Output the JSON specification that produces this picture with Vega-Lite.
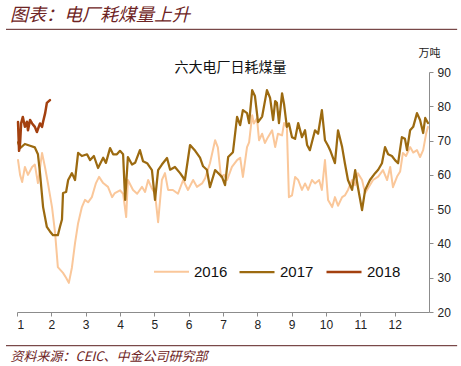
{
  "$schema": "https://vega.github.io/schema/vega-lite/v6.json",
  "autosize": {"type": "none"},
  "width": 412,
  "height": 240,
  "padding": {"left": 17, "top": 72, "right": 32, "bottom": 54},
  "background": "#ffffff",
  "title": {
    "text": "图表：电厂耗煤量上升",
    "anchor": "start",
    "frame": "group",
    "font": "Noto Sans CJK SC",
    "fontStyle": "italic",
    "fontWeight": "normal",
    "fontSize": 18,
    "color": "#6e2424",
    "dx": -7,
    "offset": 4
  },
  "config": {
    "view": {"stroke": null},
    "axis": {"labelFont": "Liberation Sans", "labelFontSize": 12, "labelColor": "#222222", "grid": false}
  },
  "resolve": {"axis": {"x": "independent", "y": "independent"}},
  "layer": [
    {
      "data": {"values": [{}]},
      "mark": {"type": "rule", "clip": false, "color": "#5a1f1f", "strokeWidth": 1},
      "encoding": {
        "x": {"datum": 0.68, "type": "quantitative", "scale": {"domain": [1, 13], "nice": false, "zero": false},
          "axis": {"orient": "top", "title": "六大电厂日耗煤量", "titleFont": "Noto Sans CJK SC", "titleFontSize": 14, "titleFontWeight": "normal", "titleColor": "#111111", "titleX": 213, "titleY": -5, "titleBaseline": "middle", "titleAlign": "center", "domain": false, "ticks": false, "labels": false}},
        "x2": {"datum": 13.82},
        "y": {"datum": 102.45, "type": "quantitative", "scale": {"domain": [20, 90], "nice": false, "zero": false}, "axis": null}
      }
    },
    {
      "data": {"values": [{}]},
      "mark": {"type": "rule", "clip": false, "color": "#5a1f1f", "strokeWidth": 1},
      "encoding": {
        "x": {"datum": 0.68, "type": "quantitative", "scale": {"domain": [1, 13], "nice": false, "zero": false}, "axis": null},
        "x2": {"datum": 13.82},
        "y": {"datum": 10.17, "type": "quantitative", "scale": {"domain": [20, 90], "nice": false, "zero": false}, "axis": null}
      }
    },
    {
      "data": {"values": [
        {"yr":2016,"m":1.03,"v":64.3},{"yr":2016,"m":1.09,"v":60},{"yr":2016,"m":1.15,"v":57.9},{"yr":2016,"m":1.23,"v":62.3},{"yr":2016,"m":1.32,"v":60},{"yr":2016,"m":1.44,"v":62.3},{"yr":2016,"m":1.52,"v":63},{"yr":2016,"m":1.61,"v":57.6},{"yr":2016,"m":1.73,"v":66.4},{"yr":2016,"m":1.82,"v":62},{"yr":2016,"m":1.90,"v":57.6},{"yr":2016,"m":2.02,"v":50.6},{"yr":2016,"m":2.11,"v":43},{"yr":2016,"m":2.19,"v":33.1},{"yr":2016,"m":2.34,"v":31.4},{"yr":2016,"m":2.43,"v":30},{"yr":2016,"m":2.51,"v":28.5},{"yr":2016,"m":2.60,"v":33},{"yr":2016,"m":2.69,"v":40.1},{"yr":2016,"m":2.78,"v":45.9},{"yr":2016,"m":2.89,"v":50.6},{"yr":2016,"m":2.98,"v":52.7},{"yr":2016,"m":3.07,"v":52},{"yr":2016,"m":3.18,"v":53.5},{"yr":2016,"m":3.30,"v":57.6},{"yr":2016,"m":3.39,"v":59.4},{"yr":2016,"m":3.51,"v":57.6},{"yr":2016,"m":3.65,"v":56.5},{"yr":2016,"m":3.77,"v":53.5},{"yr":2016,"m":3.85,"v":54.7},{"yr":2016,"m":4.00,"v":55.5},{"yr":2016,"m":4.09,"v":54.5},{"yr":2016,"m":4.18,"v":47.7},{"yr":2016,"m":4.23,"v":58.5},{"yr":2016,"m":4.38,"v":55.6},{"yr":2016,"m":4.50,"v":54.5},{"yr":2016,"m":4.64,"v":56.5},{"yr":2016,"m":4.73,"v":55},{"yr":2016,"m":4.82,"v":58.5},{"yr":2016,"m":4.93,"v":56},{"yr":2016,"m":5.02,"v":54.5},{"yr":2016,"m":5.11,"v":46.2},{"yr":2016,"m":5.22,"v":58.5},{"yr":2016,"m":5.31,"v":60.5},{"yr":2016,"m":5.40,"v":55.6},{"yr":2016,"m":5.54,"v":55.6},{"yr":2016,"m":5.69,"v":54.5},{"yr":2016,"m":5.84,"v":58.5},{"yr":2016,"m":5.98,"v":55.6},{"yr":2016,"m":6.13,"v":58.5},{"yr":2016,"m":6.24,"v":56.5},{"yr":2016,"m":6.39,"v":57.5},{"yr":2016,"m":6.48,"v":59},{"yr":2016,"m":6.62,"v":63.4},{"yr":2016,"m":6.77,"v":70.1},{"yr":2016,"m":6.85,"v":68},{"yr":2016,"m":6.94,"v":59.4},{"yr":2016,"m":7.03,"v":60},{"yr":2016,"m":7.12,"v":58.5},{"yr":2016,"m":7.26,"v":62.3},{"yr":2016,"m":7.41,"v":64.3},{"yr":2016,"m":7.50,"v":65},{"yr":2016,"m":7.58,"v":59.4},{"yr":2016,"m":7.70,"v":68.1},{"yr":2016,"m":7.76,"v":69.5},{"yr":2016,"m":7.85,"v":77.4},{"yr":2016,"m":7.90,"v":75},{"yr":2016,"m":7.99,"v":76.5},{"yr":2016,"m":8.05,"v":70.1},{"yr":2016,"m":8.14,"v":72},{"yr":2016,"m":8.22,"v":69.3},{"yr":2016,"m":8.31,"v":71},{"yr":2016,"m":8.43,"v":73},{"yr":2016,"m":8.52,"v":68.1},{"yr":2016,"m":8.60,"v":72},{"yr":2016,"m":8.72,"v":71.5},{"yr":2016,"m":8.78,"v":75.1},{"yr":2016,"m":8.86,"v":74},{"yr":2016,"m":8.92,"v":53.5},{"yr":2016,"m":9.01,"v":54},{"yr":2016,"m":9.10,"v":59.4},{"yr":2016,"m":9.19,"v":58.5},{"yr":2016,"m":9.30,"v":55.6},{"yr":2016,"m":9.39,"v":57.5},{"yr":2016,"m":9.48,"v":55.6},{"yr":2016,"m":9.59,"v":58.5},{"yr":2016,"m":9.68,"v":57.5},{"yr":2016,"m":9.80,"v":58.5},{"yr":2016,"m":9.88,"v":55.6},{"yr":2016,"m":9.97,"v":64.3},{"yr":2016,"m":10.06,"v":52.7},{"yr":2016,"m":10.18,"v":50.6},{"yr":2016,"m":10.26,"v":53.5},{"yr":2016,"m":10.35,"v":51},{"yr":2016,"m":10.47,"v":53.5},{"yr":2016,"m":10.55,"v":54},{"yr":2016,"m":10.64,"v":55.6},{"yr":2016,"m":10.76,"v":58.5},{"yr":2016,"m":10.85,"v":57},{"yr":2016,"m":10.93,"v":60.5},{"yr":2016,"m":11.05,"v":58.5},{"yr":2016,"m":11.14,"v":54.7},{"yr":2016,"m":11.22,"v":56},{"yr":2016,"m":11.37,"v":58.5},{"yr":2016,"m":11.52,"v":59.5},{"yr":2016,"m":11.66,"v":61.4},{"yr":2016,"m":11.78,"v":58.5},{"yr":2016,"m":11.87,"v":62.3},{"yr":2016,"m":11.95,"v":56.4},{"yr":2016,"m":12.07,"v":59.5},{"yr":2016,"m":12.16,"v":61},{"yr":2016,"m":12.24,"v":66.4},{"yr":2016,"m":12.33,"v":65.5},{"yr":2016,"m":12.45,"v":68.1},{"yr":2016,"m":12.54,"v":66.5},{"yr":2016,"m":12.65,"v":67.2},{"yr":2016,"m":12.74,"v":65.2},{"yr":2016,"m":12.83,"v":67.2},{"yr":2016,"m":12.92,"v":72.2},{"yr":2016,"m":12.97,"v":74},
        {"yr":2017,"m":1.03,"v":69.5},{"yr":2017,"m":1.09,"v":67.8},{"yr":2017,"m":1.23,"v":69},{"yr":2017,"m":1.38,"v":68.5},{"yr":2017,"m":1.52,"v":68},{"yr":2017,"m":1.61,"v":66},{"yr":2017,"m":1.67,"v":60.5},{"yr":2017,"m":1.76,"v":50.6},{"yr":2017,"m":1.87,"v":44.8},{"yr":2017,"m":1.96,"v":43.5},{"yr":2017,"m":2.05,"v":42.4},{"yr":2017,"m":2.19,"v":42.4},{"yr":2017,"m":2.25,"v":44.8},{"yr":2017,"m":2.31,"v":47},{"yr":2017,"m":2.34,"v":54.7},{"yr":2017,"m":2.43,"v":55},{"yr":2017,"m":2.49,"v":58.5},{"yr":2017,"m":2.60,"v":60.5},{"yr":2017,"m":2.69,"v":58.5},{"yr":2017,"m":2.78,"v":66.4},{"yr":2017,"m":2.89,"v":65.5},{"yr":2017,"m":3.04,"v":66},{"yr":2017,"m":3.13,"v":64.3},{"yr":2017,"m":3.24,"v":65.5},{"yr":2017,"m":3.36,"v":62},{"yr":2017,"m":3.51,"v":65},{"yr":2017,"m":3.59,"v":63.5},{"yr":2017,"m":3.71,"v":67.8},{"yr":2017,"m":3.80,"v":66},{"yr":2017,"m":3.91,"v":66},{"yr":2017,"m":4.00,"v":67},{"yr":2017,"m":4.09,"v":66},{"yr":2017,"m":4.15,"v":52.7},{"yr":2017,"m":4.23,"v":65.2},{"yr":2017,"m":4.35,"v":63},{"yr":2017,"m":4.44,"v":63.5},{"yr":2017,"m":4.58,"v":67.2},{"yr":2017,"m":4.67,"v":64},{"yr":2017,"m":4.79,"v":63.4},{"yr":2017,"m":4.93,"v":61.4},{"yr":2017,"m":5.02,"v":52.7},{"yr":2017,"m":5.11,"v":61.4},{"yr":2017,"m":5.22,"v":63},{"yr":2017,"m":5.37,"v":64.9},{"yr":2017,"m":5.46,"v":61.5},{"yr":2017,"m":5.60,"v":62.3},{"yr":2017,"m":5.75,"v":60.5},{"yr":2017,"m":5.89,"v":58.5},{"yr":2017,"m":6.04,"v":68.7},{"yr":2017,"m":6.19,"v":67},{"yr":2017,"m":6.33,"v":65},{"yr":2017,"m":6.42,"v":62.5},{"yr":2017,"m":6.53,"v":61.5},{"yr":2017,"m":6.62,"v":56.4},{"yr":2017,"m":6.77,"v":61.4},{"yr":2017,"m":6.97,"v":59.4},{"yr":2017,"m":7.06,"v":57},{"yr":2017,"m":7.15,"v":65.2},{"yr":2017,"m":7.29,"v":66.6},{"yr":2017,"m":7.41,"v":76.9},{"yr":2017,"m":7.50,"v":74.5},{"yr":2017,"m":7.58,"v":78.9},{"yr":2017,"m":7.70,"v":78},{"yr":2017,"m":7.76,"v":75.1},{"yr":2017,"m":7.85,"v":84.7},{"yr":2017,"m":7.93,"v":83},{"yr":2017,"m":8.02,"v":75.4},{"yr":2017,"m":8.14,"v":77},{"yr":2017,"m":8.28,"v":84.7},{"yr":2017,"m":8.37,"v":82.5},{"yr":2017,"m":8.46,"v":76},{"yr":2017,"m":8.52,"v":81.5},{"yr":2017,"m":8.57,"v":81},{"yr":2017,"m":8.63,"v":75.1},{"yr":2017,"m":8.72,"v":83.8},{"yr":2017,"m":8.78,"v":80.5},{"yr":2017,"m":8.86,"v":74},{"yr":2017,"m":8.92,"v":75},{"yr":2017,"m":9.01,"v":71},{"yr":2017,"m":9.10,"v":70.5},{"yr":2017,"m":9.19,"v":75.1},{"yr":2017,"m":9.30,"v":71},{"yr":2017,"m":9.39,"v":73},{"yr":2017,"m":9.45,"v":68.7},{"yr":2017,"m":9.53,"v":67.2},{"yr":2017,"m":9.68,"v":73},{"yr":2017,"m":9.77,"v":72},{"yr":2017,"m":9.88,"v":78.9},{"yr":2017,"m":9.97,"v":70.1},{"yr":2017,"m":10.06,"v":68.5},{"yr":2017,"m":10.12,"v":67.2},{"yr":2017,"m":10.26,"v":63.4},{"yr":2017,"m":10.35,"v":73},{"yr":2017,"m":10.47,"v":68.1},{"yr":2017,"m":10.55,"v":63.4},{"yr":2017,"m":10.64,"v":58.5},{"yr":2017,"m":10.76,"v":55.6},{"yr":2017,"m":10.85,"v":61.4},{"yr":2017,"m":10.93,"v":56.4},{"yr":2017,"m":11.05,"v":49.7},{"yr":2017,"m":11.14,"v":55.6},{"yr":2017,"m":11.28,"v":58.5},{"yr":2017,"m":11.43,"v":60.5},{"yr":2017,"m":11.52,"v":61.5},{"yr":2017,"m":11.63,"v":63.4},{"yr":2017,"m":11.72,"v":68.1},{"yr":2017,"m":11.81,"v":66},{"yr":2017,"m":11.92,"v":65.5},{"yr":2017,"m":12.01,"v":64.3},{"yr":2017,"m":12.10,"v":63.4},{"yr":2017,"m":12.21,"v":71},{"yr":2017,"m":12.30,"v":70.5},{"yr":2017,"m":12.36,"v":67.2},{"yr":2017,"m":12.45,"v":73},{"yr":2017,"m":12.54,"v":74},{"yr":2017,"m":12.65,"v":78},{"yr":2017,"m":12.74,"v":76},{"yr":2017,"m":12.83,"v":72.2},{"yr":2017,"m":12.89,"v":76.6},{"yr":2017,"m":12.97,"v":75.1},
        {"yr":2018,"m":1.03,"v":75.4},{"yr":2018,"m":1.06,"v":67},{"yr":2018,"m":1.09,"v":69.3},{"yr":2018,"m":1.12,"v":75},{"yr":2018,"m":1.17,"v":76.9},{"yr":2018,"m":1.23,"v":74},{"yr":2018,"m":1.29,"v":75.5},{"yr":2018,"m":1.32,"v":73},{"yr":2018,"m":1.38,"v":76},{"yr":2018,"m":1.44,"v":75},{"yr":2018,"m":1.52,"v":74},{"yr":2018,"m":1.58,"v":72.5},{"yr":2018,"m":1.67,"v":75},{"yr":2018,"m":1.73,"v":74},{"yr":2018,"m":1.76,"v":75.5},{"yr":2018,"m":1.82,"v":78},{"yr":2018,"m":1.87,"v":81},{"yr":2018,"m":1.96,"v":81.8}
      ]},
      "mark": {"type": "line", "strokeJoin": "round", "strokeCap": "round"},
      "encoding": {
        "x": {"field": "m", "type": "quantitative", "scale": {"domain": [1, 13], "nice": false, "zero": false},
          "axis": {"orient": "bottom", "values": [1,2,3,4,5,6,7,8,9,10,11,12], "format": "d", "domainColor": "#8c8c8c", "tickColor": "#8c8c8c", "tickSize": 4, "labelPadding": 3,
            "title": "资料来源：CEIC、中金公司研究部", "titleFont": "Noto Sans CJK SC", "titleFontStyle": "italic", "titleFontWeight": "normal", "titleFontSize": 13, "titleColor": "#6e2424", "titleAnchor": "start", "titleAlign": "left", "titleBaseline": "alphabetic", "titleX": -7, "titleY": 48}},
        "y": {"field": "v", "type": "quantitative", "scale": {"domain": [20, 90], "nice": false, "zero": false},
          "axis": {"orient": "right", "values": [20,30,40,50,60,70,80,90], "domainColor": "#8c8c8c", "tickColor": "#8c8c8c", "tickSize": 4, "labelPadding": 4,
            "title": "万吨", "titleAngle": 0, "titleFont": "Noto Sans CJK SC", "titleFontSize": 11, "titleFontWeight": "normal", "titleColor": "#222222", "titleAlign": "center", "titleBaseline": "middle", "titleX": 0, "titleY": -19}},
        "color": {"field": "yr", "type": "ordinal", "scale": {"domain": [2016, 2017, 2018], "range": ["#fac79a", "#9c6a10", "#a3400f"]},
          "legend": {"orient": "none", "legendX": 136, "legendY": 181, "direction": "horizontal", "title": null, "symbolType": "stroke", "symbolSize": 1225, "labelFont": "Liberation Sans", "labelFontSize": 15, "labelColor": "#111111", "labelOffset": 4, "columnPadding": 7}},
        "strokeWidth": {"field": "yr", "type": "ordinal", "scale": {"domain": [2016, 2017, 2018], "range": [2, 2.5, 4.5]},
          "legend": {"orient": "none", "legendX": 136, "legendY": 181, "direction": "horizontal", "title": null, "symbolType": "stroke", "symbolSize": 1225, "labelFont": "Liberation Sans", "labelFontSize": 15, "labelColor": "#111111", "labelOffset": 4, "columnPadding": 7}}
      }
    }
  ]
}
